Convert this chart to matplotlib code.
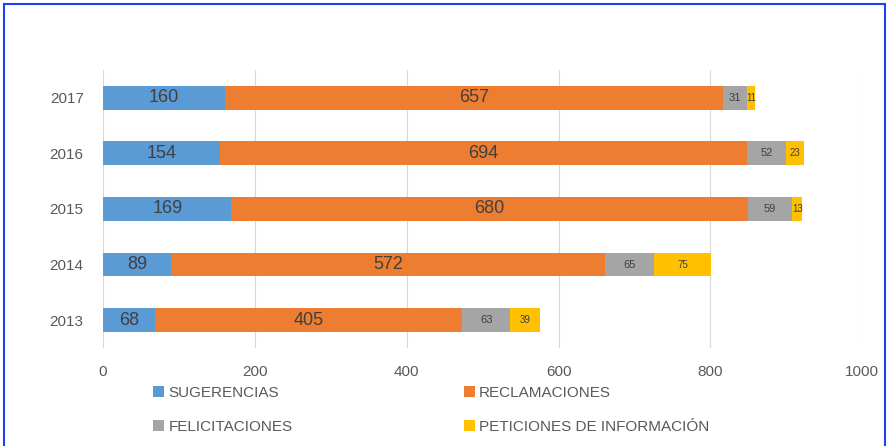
import matplotlib.pyplot as plt
from matplotlib.patches import Rectangle
import numpy as np

plt.rcParams['font.family'] = ['Liberation Sans Narrow', 'Liberation Sans', 'DejaVu Sans']

years = ['2013', '2014', '2015', '2016', '2017']
sugerencias = [68, 89, 169, 154, 160]
reclamaciones = [405, 572, 680, 694, 657]
felicitaciones = [63, 65, 59, 52, 31]
peticiones = [39, 75, 13, 23, 11]

series = [
    ('SUGERENCIAS', sugerencias, '#5B9BD5', 13),
    ('RECLAMACIONES', reclamaciones, '#ED7D31', 13),
    ('FELICITACIONES', felicitaciones, '#A5A5A5', 8),
    ('PETICIONES DE INFORMACIÓN', peticiones, '#FFC000', 7),
]

fig = plt.figure(figsize=(8.89, 4.46), dpi=100)
ax = fig.add_axes([0.116, 0.22, 0.854, 0.623])

y = np.arange(len(years))
left = np.zeros(len(years))
bars = {}
for name, vals, color, fs in series:
    b = ax.barh(y, vals, left=left, height=0.43, color=color, label=name, zorder=3)
    ax.bar_label(b, labels=[str(v) for v in vals], label_type='center',
                 fontsize=fs, color='#404040')
    bars[name] = b
    left = left + np.array(vals)

ax.set_xlim(0, 1000)
ax.set_ylim(-0.5, 4.5)
ax.set_yticks(y)
ax.set_yticklabels(years)
ax.set_xticks([0, 200, 400, 600, 800, 1000])
ax.tick_params(axis='both', length=0, labelsize=11, colors='#595959')
ax.tick_params(axis='x', pad=12)
ax.tick_params(axis='y', pad=14)
ax.grid(axis='x', color='#D9D9D9', linewidth=0.8, zorder=0)
for s in ax.spines.values():
    s.set_visible(False)

order = ['SUGERENCIAS', 'FELICITACIONES', 'RECLAMACIONES', 'PETICIONES DE INFORMACIÓN']
fig.legend([bars[n] for n in order], order, ncol=2, loc='upper left',
           bbox_to_anchor=(0.157, 0.165), frameon=False, fontsize=11,
           handlelength=0.7, handleheight=0.7, handletextpad=0.3,
           labelspacing=1.3, columnspacing=11.2, labelcolor='#595959')

fig.patches.append(Rectangle((0.005, -0.05), 0.99, 1.04, transform=fig.transFigure,
                             fill=False, edgecolor='#1F3FFF', linewidth=1.5))

plt.savefig('out.png')
